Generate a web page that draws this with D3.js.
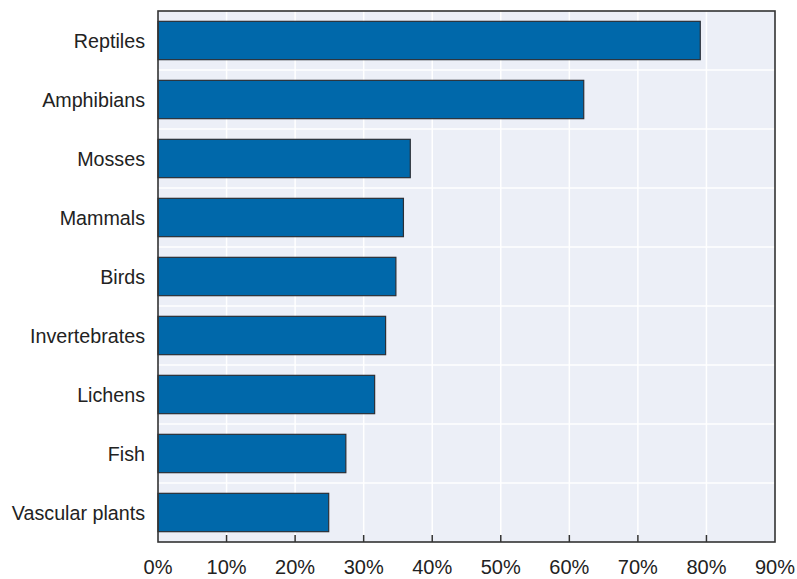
<!DOCTYPE html>
<html>
<head>
<meta charset="utf-8">
<script src="https://cdn.jsdelivr.net/npm/d3@7"></script>
<style>
  html, body { margin: 0; padding: 0; background: #fff; }
  svg { display: block; font-family: "Liberation Sans", Arial, sans-serif; }
</style>
</head>
<body>
<svg id="chart" width="797" height="579"></svg>
<script>
// Share of assessed species by group (percent)
const categories = ["Reptiles", "Amphibians", "Mosses", "Mammals", "Birds",
                    "Invertebrates", "Lichens", "Fish", "Vascular plants"];
const values = [79.1, 62.1, 36.8, 35.8, 34.7, 33.2, 31.6, 27.4, 24.9];
const tickValues = [0, 10, 20, 30, 40, 50, 60, 70, 80, 90];

const svg = d3.select("#chart");
const margin = { top: 11, right: 22, bottom: 37, left: 158 };
const W = 797, H = 579;
const innerW = W - margin.left - margin.right;
const innerH = H - margin.top - margin.bottom;

const x = d3.scaleLinear().domain([0, 90]).range([0, innerW]);
const y = d3.scaleBand().domain(categories).range([0, innerH]).paddingInner(0.35).paddingOuter(0.175);

const g = svg.append("g").attr("transform", `translate(${margin.left},${margin.top})`);

// plot background
g.append("rect").attr("width", innerW).attr("height", innerH).attr("fill", "#ECEFF7");

// vertical gridlines
g.selectAll(".vgrid").data(tickValues.slice(1, -1)).join("line")
  .attr("x1", d => x(d)).attr("x2", d => x(d))
  .attr("y1", 0).attr("y2", innerH)
  .attr("stroke", "#fff").attr("stroke-width", 1.5);

// horizontal separators between categories
const step = y.step();
const seps = categories.slice(1).map(c => y(c) - step * y.paddingInner() / 2);
g.selectAll(".hgrid").data(seps).join("line")
  .attr("x1", 0).attr("x2", innerW)
  .attr("y1", d => d).attr("y2", d => d)
  .attr("stroke", "#fff").attr("stroke-width", 1.5);

// bars
g.selectAll(".bar").data(categories).join("rect")
  .attr("x", 0)
  .attr("y", d => y(d))
  .attr("width", (d, i) => x(values[i]))
  .attr("height", y.bandwidth())
  .attr("fill", "#0068AA")
  .attr("stroke", "#2b2f36").attr("stroke-width", 1.2);

// inward tick marks on the bottom edge
g.selectAll(".tick-mark").data(tickValues.slice(1, -1)).join("line")
  .attr("x1", d => x(d)).attr("x2", d => x(d))
  .attr("y1", innerH).attr("y2", innerH - 7)
  .attr("stroke", "#333").attr("stroke-width", 1.5);

// frame
g.append("rect").attr("width", innerW).attr("height", innerH)
  .attr("fill", "none").attr("stroke", "#333").attr("stroke-width", 1.6);

// x tick labels
g.selectAll(".xlab").data(tickValues).join("text")
  .attr("x", d => x(d)).attr("y", innerH + 31.5)
  .attr("text-anchor", "middle")
  .attr("font-size", 20).attr("fill", "#222")
  .text(d => d + "%");

// category labels
g.selectAll(".ylab").data(categories).join("text")
  .attr("x", -13).attr("y", d => y(d) + y.bandwidth() / 2)
  .attr("dy", "0.36em")
  .attr("text-anchor", "end")
  .attr("font-size", 19.7).attr("fill", "#222")
  .text(d => d);
</script>
</body>
</html>
